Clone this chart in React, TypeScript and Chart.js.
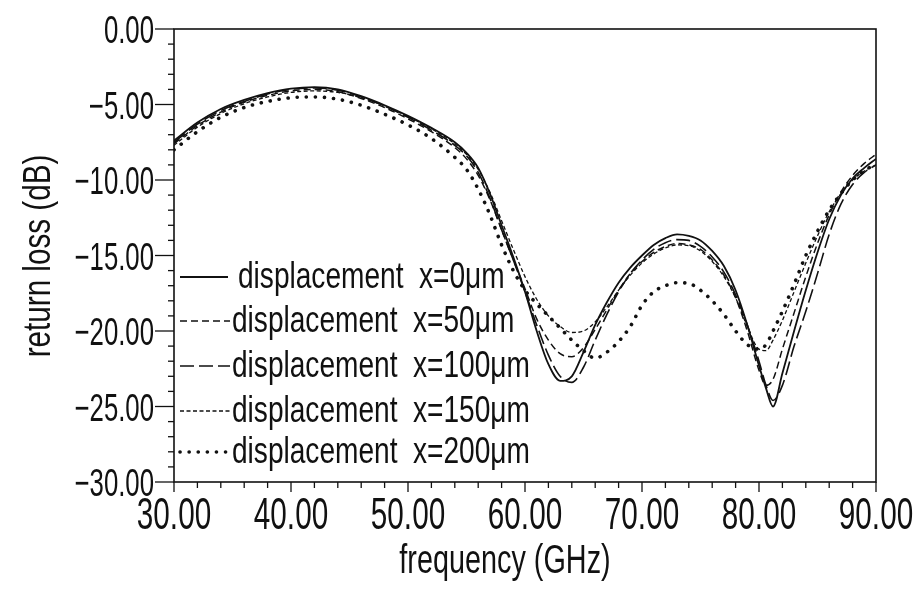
import { useEffect, useRef } from 'react';
import { Chart, registerables } from 'chart.js';

Chart.register(...registerables);

// ---- data ----
const frequencies = [30, 32, 34, 36, 38, 40, 42, 44, 46, 48, 50, 52, 54, 55, 56, 57, 58, 59, 60, 61, 62, 63, 64, 65, 66, 67, 68, 69, 70, 71, 72, 73, 74, 75, 76, 77, 78, 79, 80, 80.6, 81.2, 82, 83, 84, 85, 86, 87, 88, 89, 90];

const rl0um = [-7.4, -6.2, -5.3, -4.7, -4.25, -3.95, -3.85, -4.0, -4.45, -5.05, -5.75, -6.55, -7.5, -8.2, -9.2, -10.9, -13.0, -15.1, -17.4, -20.0, -22.2, -23.3, -23.0, -21.4, -19.6, -18.1, -16.8, -15.8, -15.0, -14.3, -13.85, -13.6, -13.7, -14.0, -14.7, -15.7, -17.3, -19.6, -22.3, -23.8, -25.0, -22.8, -20.0, -17.3, -14.8, -12.6, -11.0, -9.9, -9.2, -8.6];

const rl50um = [-7.6, -6.4, -5.5, -4.85, -4.4, -4.1, -4.0, -4.15, -4.6, -5.2, -5.95, -6.8, -7.85, -8.6, -9.7, -11.3, -13.3, -15.3, -17.2, -19.2, -20.6, -21.5, -21.7, -21.1, -19.9, -18.6, -17.3, -16.2, -15.4, -14.8, -14.4, -14.2, -14.3, -14.6, -15.3, -16.3, -17.8, -20.0, -22.6, -23.6, -23.2, -21.2, -18.8, -16.4, -14.2, -12.3, -10.8, -9.7, -8.9, -8.3];

const rl100um = [-7.5, -6.3, -5.4, -4.8, -4.3, -4.0, -3.9, -4.05, -4.5, -5.1, -5.85, -6.7, -7.7, -8.4, -9.5, -11.2, -13.3, -15.3, -17.4, -19.6, -21.6, -23.0, -23.4, -22.4, -20.6, -18.9, -17.4, -16.2, -15.3, -14.6, -14.15, -13.95, -14.0, -14.4, -15.1, -16.1, -17.6, -19.6, -22.0, -23.6, -24.6, -23.6, -21.0, -18.7, -16.2, -13.6, -11.6, -10.3, -9.5, -9.0];

const rl150um = [-7.7, -6.5, -5.6, -4.95, -4.5, -4.2, -4.1, -4.2, -4.55, -5.1, -5.8, -6.6, -7.6, -8.3, -9.3, -10.8, -12.7, -14.6, -16.4, -17.9, -19.0, -19.7, -20.1, -20.0, -19.4, -18.4, -17.3, -16.3, -15.5, -14.9, -14.5, -14.3, -14.35, -14.7, -15.4, -16.4, -17.8, -19.7, -21.2, -21.3, -20.6, -19.3, -17.4, -15.5, -13.7, -12.1, -10.9, -10.0, -9.4, -9.0];

const rl200um = [-8.0, -6.8, -5.85, -5.2, -4.8, -4.55, -4.5, -4.65, -5.05, -5.65, -6.35, -7.25, -8.5, -9.3, -10.6, -12.3, -14.3, -16.0, -17.3, -18.2, -19.0, -19.8, -20.6, -21.3, -21.8, -21.4, -20.7, -19.7, -18.3, -17.4, -17.0, -16.8, -16.85, -17.3, -18.0, -18.9, -20.0, -20.9, -21.2, -20.9, -20.0, -18.7, -16.9, -15.0, -13.4, -12.0, -10.9, -10.0, -9.4, -8.9];

const seriesLabels = ['displacement  x=0\u03bcm', 'displacement  x=50\u03bcm', 'displacement  x=100\u03bcm', 'displacement  x=150\u03bcm', 'displacement  x=200\u03bcm'];

const xTickValues = [30, 40, 50, 60, 70, 80, 90];
const yTickValues = [0, -5, -10, -15, -20, -25, -30];
const xTitle = 'frequency (GHz)';
const yTitle = 'return loss (dB)';

const INK = '#111111';
const FONT = '"Liberation Sans", Arial, sans-serif';

function scaledText(ctx: CanvasRenderingContext2D, text: string, x: number, y: number, size: number, sx: number, align: CanvasTextAlign, rotate = 0) {
  ctx.save();
  ctx.translate(x, y);
  if (rotate) ctx.rotate(rotate);
  ctx.scale(sx, 1);
  ctx.font = `${size}px ${FONT}`;
  ctx.textAlign = align;
  ctx.textBaseline = 'alphabetic';
  ctx.fillStyle = INK;
  ctx.fillText(text, 0, 0);
  ctx.restore();
}

const paperAxes = {
  id: 'paperAxes',
  afterDraw(chart: any) {
    const { ctx, chartArea: a, scales } = chart;
    const xs = scales.x;
    const ys = scales.y;
    ctx.save();
    ctx.strokeStyle = INK;
    ctx.lineWidth = 1.6;
    ctx.setLineDash([]);
    ctx.strokeRect(a.left, a.top, a.right - a.left, a.bottom - a.top);

    // y ticks (minor every 1 dB, outward)
    ctx.lineWidth = 1.3;
    for (let v = 0; v >= -30; v -= 1) {
      const py = ys.getPixelForValue(v);
      const len = v % 5 === 0 ? 19 : 6;
      ctx.beginPath();
      ctx.moveTo(a.left - len, py);
      ctx.lineTo(a.left, py);
      ctx.stroke();
    }
    // x ticks (minor every 2 GHz, downward)
    for (let f = 30; f <= 90; f += 2) {
      const px = xs.getPixelForValue(f);
      const len = f % 10 === 0 ? 10 : 6;
      ctx.beginPath();
      ctx.moveTo(px, a.bottom);
      ctx.lineTo(px, a.bottom + len);
      ctx.stroke();
    }
    ctx.restore();

    yTickValues.forEach((v) => {
      const py = ys.getPixelForValue(v);
      const txt = (v < 0 ? '\u2212' : '') + Math.abs(v).toFixed(2);
      scaledText(ctx, txt, a.left - 20, py + 14, 39, 0.66, 'right');
    });
    xTickValues.forEach((f) => {
      const px = xs.getPixelForValue(f);
      scaledText(ctx, f.toFixed(2), px, a.bottom + 47, 45, 0.66, 'center');
    });

    scaledText(ctx, xTitle, 505, 573, 40, 0.72, 'center');
    scaledText(ctx, yTitle, 50, 256, 38, 0.78, 'center', -Math.PI / 2);

    // legend inside the plot
    const baselines = [288, 332, 377, 422, 463];
    chart.data.datasets.forEach((ds: any, i: number) => {
      const by = baselines[i];
      const ly = by - 11;
      ctx.save();
      ctx.strokeStyle = INK;
      ctx.lineWidth = ds.borderWidth;
      ctx.lineCap = ds.borderCapStyle || 'butt';
      ctx.setLineDash(ds.borderDash || []);
      ctx.beginPath();
      ctx.moveTo(a.left + 6, ly);
      ctx.lineTo(i === 0 ? a.left + 54 : a.left + 56, ly);
      ctx.stroke();
      ctx.restore();
      scaledText(ctx, seriesLabels[i], i === 0 ? 238 : 232, by, 36, 0.78, 'left');
    });
  },
};

const seriesValues = [rl0um, rl50um, rl100um, rl150um, rl200um];
const seriesStyles = [
  { borderWidth: 1.8, borderDash: [] as number[], borderCapStyle: 'butt' },
  { borderWidth: 1.5, borderDash: [7, 4], borderCapStyle: 'butt' },
  { borderWidth: 1.6, borderDash: [14, 5], borderCapStyle: 'butt' },
  { borderWidth: 1.3, borderDash: [4, 2.5], borderCapStyle: 'butt' },
  { borderWidth: 3.6, borderDash: [0.1, 9], borderCapStyle: 'round' },
];

export default function App() {
  const canvasRef = useRef<HTMLCanvasElement | null>(null);

  useEffect(() => {
    const canvas = canvasRef.current;
    if (!canvas) return;
    const chart = new Chart(canvas, {
      type: 'line',
      data: {
        datasets: seriesValues.map((vals, i) => ({
          label: seriesLabels[i],
          data: frequencies.map((f, k) => ({ x: f, y: vals[k] })),
          borderColor: INK,
          backgroundColor: INK,
          pointRadius: 0,
          fill: false,
          cubicInterpolationMode: 'monotone' as const,
          ...seriesStyles[i],
        })) as any,
      },
      options: {
        animation: false,
        responsive: false,
        devicePixelRatio: 1,
        layout: { padding: { left: 174, top: 29, right: 44, bottom: 110 } },
        plugins: { legend: { display: false }, tooltip: { enabled: false } },
        scales: {
          x: { type: 'linear', min: 30, max: 90, display: false },
          y: { type: 'linear', min: -30, max: 0, display: false },
        },
      },
      plugins: [paperAxes],
    });
    return () => chart.destroy();
  }, []);

  return (
    <div style={{ position: 'fixed', left: 0, top: 0, width: 920, height: 592, background: '#fff' }}>
      <canvas ref={canvasRef} width={920} height={592} style={{ display: 'block' }} />
    </div>
  );
}
